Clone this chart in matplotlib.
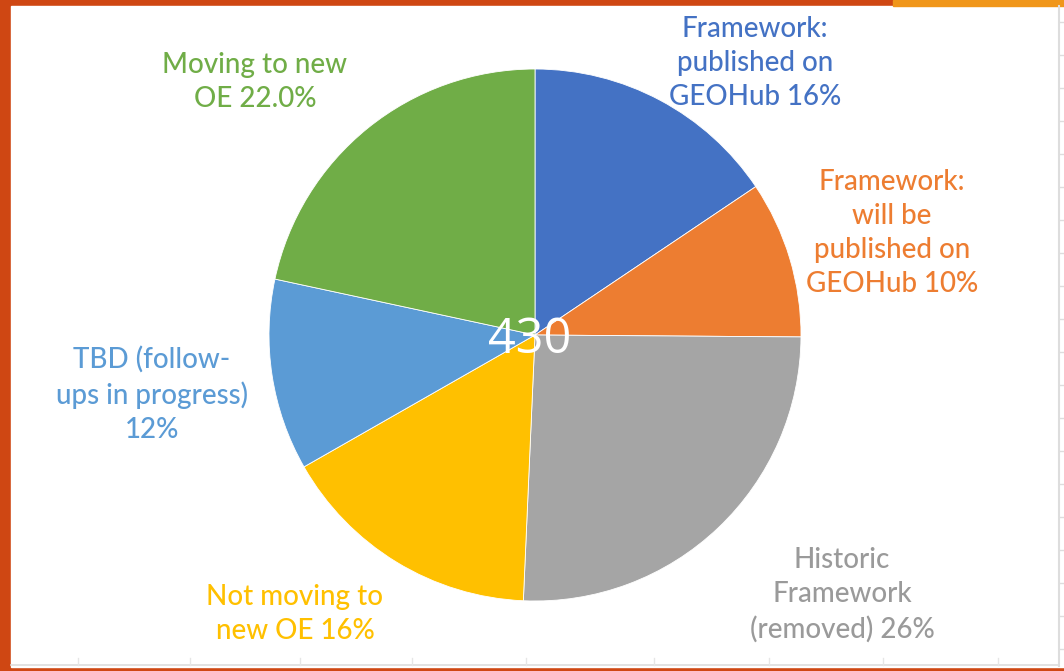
import matplotlib.pyplot as plt
from matplotlib.patches import Rectangle

# slice data, clockwise from 12 o'clock (counts out of 430)
labels = ["Framework:\npublished on\nGEOHub 16%",
          "Framework:\nwill be\npublished on\nGEOHub 10%",
          "Historic\nFramework\n(removed) 26%",
          "Not moving to\nnew OE 16%",
          "TBD (follow-\nups in progress)\n12%",
          "Moving to new\nOE 22.0%"]
counts = [67, 41, 110, 69, 50, 93]
colors = ["#4472C4", "#ED7D31", "#A5A5A5", "#FFC000", "#5B9BD5", "#70AD47"]
label_colors = ["#4472C4", "#ED7D31", "#9A9A9A", "#FFC000", "#5B9BD5", "#70AD47"]
label_pos = [(755, 63), (892, 233), (842, 595), (295, 614), (152, 394), (255, 82)]
total_label = "430"

W, H = 1064, 671
fig = plt.figure(figsize=(W / 100, H / 100), dpi=100)
fig.patch.set_facecolor("#CF4713")
ax = fig.add_axes([0, 0, 1, 1])

# page decoration: white sheet, orange bar, faint spreadsheet grid
ax.add_patch(Rectangle((11, H - 667), 1053, 661, color="white", zorder=0))
ax.add_patch(Rectangle((893, H - 6), 171, 6, color="#F0961A", zorder=0))
ax.plot([1059, 1059], [H - 6, H - 666], color="#DDDDDD", lw=1.5, zorder=0)
ax.plot([11, 1059], [H - 665, H - 665], color="#DDDDDD", lw=1.2, zorder=0)
for yy in range(22, 660, 33):
    ax.plot([1059, 1064], [H - yy, H - yy], color="#DDDDDD", lw=1, zorder=0)
for xx in [78, 190, 300, 412, 526, 654, 769, 883, 998]:
    ax.plot([xx, xx], [H - 665, H - 658], color="#E6E6E6", lw=1, zorder=0)

cx, cy, r = 535, H - 335, 266
ax.pie(counts, colors=colors, startangle=90, counterclock=False,
       center=(cx, cy), radius=r,
       wedgeprops=dict(edgecolor="white", linewidth=0.6))

for text, (x, y), c in zip(labels, label_pos, label_colors):
    ax.text(x, H - y, text, color=c, ha="center", va="center",
            fontsize=20, family="Lato", fontweight="medium", linespacing=1.38)

ax.text(530, H - 340, total_label, color="white", ha="center", va="center",
        fontsize=35, family="Open Sans")

ax.set_xlim(0, W)
ax.set_ylim(0, H)
ax.set_aspect("auto")
ax.axis("off")

fig.savefig("out.png", dpi=100, facecolor=fig.get_facecolor())
